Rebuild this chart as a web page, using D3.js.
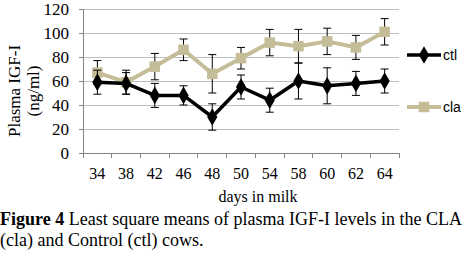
<!DOCTYPE html>
<html>
<head>
<meta charset="utf-8">
<script src="https://cdn.jsdelivr.net/npm/d3@7"></script>
<style>
  body { margin: 0; background: #fff; }
  svg { display: block; }
</style>
</head>
<body>
<div id="chart"></div>
<script>
const days = ["34", "38", "42", "46", "48", "50", "54", "58", "60", "62", "64"];
const ctlValues = [59, 58, 48, 48, 30, 55, 44, 60, 56, 58, 60];
const ctlErrors = [10, 9, 10, 8, 11, 10, 10, 15, 15, 10, 10];
const claValues = [67, 59, 72, 86, 66, 79, 92, 89, 93, 88, 101];
const claErrors = [10, 10, 11, 9, 16, 9, 11, 14, 11, 10, 11];
const yTicks = [0, 20, 40, 60, 80, 100, 120];

const black = "#000000";
const tan = "#c4bd97";
const grid = "#bfbfbf";

const width = 471, height = 262;
const margin = { top: 9, left: 83, right: 72, bottom: 109 };
const plotW = width - margin.left - margin.right;
const plotH = height - margin.top - margin.bottom;

const svg = d3.select("#chart").append("svg")
    .attr("width", width)
    .attr("height", height);

const g = svg.append("g")
    .attr("transform", `translate(${margin.left},${margin.top})`);

const x = d3.scaleBand().domain(days).range([0, plotW]);
const y = d3.scaleLinear().domain([0, 120]).range([plotH, 0]);

// gridlines
g.selectAll(".grid")
    .data(yTicks.filter(d => d > 0))
    .join("line")
    .attr("x1", 0).attr("x2", plotW)
    .attr("y1", d => y(d)).attr("y2", d => y(d))
    .attr("stroke", grid).attr("stroke-width", 1)
    .attr("shape-rendering", "crispEdges");

// y axis
const yAxis = g.append("g")
    .call(d3.axisLeft(y).tickValues(yTicks).tickSize(4).tickPadding(10));
yAxis.select(".domain").attr("stroke", "#868686").attr("shape-rendering", "crispEdges");
yAxis.selectAll(".tick line").attr("stroke", "#868686").attr("shape-rendering", "crispEdges");
yAxis.selectAll("text")
    .style("font-family", "Liberation Serif")
    .style("font-size", "17px")
    .attr("fill", black);

// x axis, ticks at category boundaries
const xAxisG = g.append("g").attr("transform", `translate(0,${plotH})`);
xAxisG.append("line")
    .attr("x1", 0).attr("x2", plotW)
    .attr("stroke", "#868686")
    .attr("shape-rendering", "crispEdges");
xAxisG.selectAll(".xtick")
    .data(days.concat(["end"]))
    .join("line")
    .attr("x1", (d, i) => i * x.step())
    .attr("x2", (d, i) => i * x.step())
    .attr("y1", 0).attr("y2", 5)
    .attr("stroke", "#868686")
    .attr("shape-rendering", "crispEdges");
xAxisG.selectAll(".xlab")
    .data(days)
    .join("text")
    .attr("x", d => x(d) + x.bandwidth() / 2)
    .attr("y", 26)
    .attr("text-anchor", "middle")
    .style("font-family", "Liberation Serif")
    .style("font-size", "16px")
    .attr("fill", black)
    .text(d => d);

const cx = d => x(d) + x.bandwidth() / 2;

function drawSeries(values, errors, color, lineWidth, shape) {
    const pts = days.map((d, i) => ({ day: d, v: values[i], e: errors[i] }));

    const eb = g.append("g");
    pts.forEach(p => {
        eb.append("line")
            .attr("x1", cx(p.day)).attr("x2", cx(p.day))
            .attr("y1", y(p.v + p.e)).attr("y2", y(p.v - p.e))
            .attr("stroke", black).attr("stroke-width", 1);
        [p.v + p.e, p.v - p.e].forEach(v => {
            eb.append("line")
                .attr("x1", cx(p.day) - 4).attr("x2", cx(p.day) + 4)
                .attr("y1", y(v)).attr("y2", y(v))
                .attr("stroke", black).attr("stroke-width", 1);
        });
    });

    g.append("path")
        .datum(pts)
        .attr("fill", "none")
        .attr("stroke", color)
        .attr("stroke-width", lineWidth)
        .attr("stroke-linejoin", "round")
        .attr("d", d3.line().x(p => cx(p.day)).y(p => y(p.v)));

    g.selectAll(null)
        .data(pts)
        .join("path")
        .attr("transform", p => `translate(${cx(p.day)},${y(p.v)})`)
        .attr("d", d3.symbol().type(shape).size(shape === d3.symbolSquare ? 110 : 90))
        .attr("fill", color);
}

drawSeries(claValues, claErrors, tan, 4, d3.symbolSquare);
drawSeries(ctlValues, ctlErrors, black, 3.5, d3.symbolDiamond);

// legend
const legendItems = [
    { name: "ctl", color: black, w: 3.5, shape: d3.symbolDiamond, y: 55 },
    { name: "cla", color: tan, w: 4, shape: d3.symbolSquare, y: 107 }
];
legendItems.forEach(it => {
    svg.append("line")
        .attr("x1", 407).attr("x2", 441)
        .attr("y1", it.y).attr("y2", it.y)
        .attr("stroke", it.color).attr("stroke-width", it.w);
    svg.append("path")
        .attr("transform", `translate(424,${it.y})`)
        .attr("d", d3.symbol().type(it.shape).size(it.shape === d3.symbolSquare ? 110 : 90))
        .attr("fill", it.color);
    svg.append("text")
        .attr("x", 443).attr("y", it.y + 5)
        .style("font-family", "Liberation Sans Narrow, Liberation Sans")
        .style("font-size", "14px")
        .attr("fill", black)
        .text(it.name);
});

// y title
const yt = svg.append("text")
    .attr("transform", "translate(0,91) rotate(-90)")
    .attr("text-anchor", "middle")
    .style("font-family", "Liberation Serif")
    .style("font-size", "17px")
    .attr("fill", black);
yt.append("tspan").attr("x", 0).attr("y", 20).text("Plasma IGF-I");
yt.append("tspan").attr("x", 0).attr("y", 39).text("(ng/ml)");

// x title
svg.append("text")
    .attr("x", 258).attr("y", 202)
    .attr("text-anchor", "middle")
    .style("font-family", "Liberation Serif")
    .style("font-size", "16px")
    .attr("fill", black)
    .text("days in milk");

// caption
const cap = svg.append("text")
    .style("font-family", "Liberation Serif")
    .style("font-size", "18px")
    .attr("fill", black);
const l1 = cap.append("tspan").attr("x", 0).attr("y", 225);
l1.append("tspan").style("font-weight", "bold").text("Figure 4");
l1.append("tspan").text(" Least square means of plasma IGF-I levels in the CLA");
cap.append("tspan").attr("x", 0).attr("y", 246).text("(cla) and Control (ctl) cows.");
</script>
</body>
</html>
